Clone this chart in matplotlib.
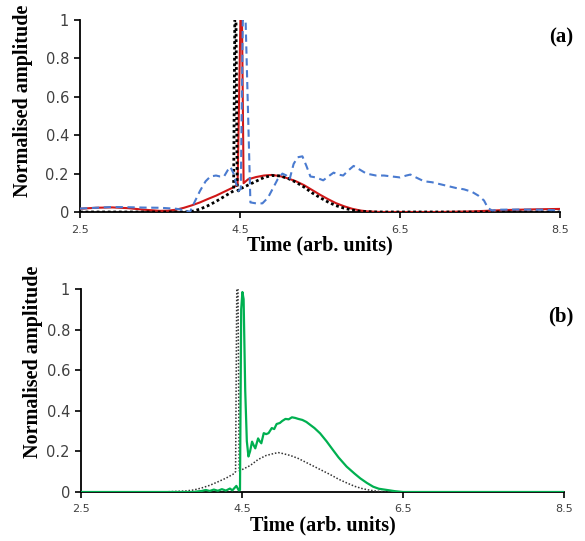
import matplotlib
matplotlib.use("Agg")
import matplotlib.pyplot as plt

# Panel (a): reference pulse (dotted), solid red and dashed blue responses
t_ref_a = [2.5, 3.0, 3.5, 3.8, 3.9, 4.0, 4.1, 4.2, 4.3, 4.4, 4.42, 4.435, 4.45,
           4.465, 4.48, 4.5, 4.6, 4.7, 4.8, 4.9, 5.0, 5.1, 5.2, 5.3, 5.4, 5.5,
           5.6, 5.7, 5.8, 5.9, 6.0, 6.2, 6.5, 7.0, 8.5]
ref_a = [0.0, 0.0, 0.0, 0.0, 0.003, 0.015, 0.033, 0.055, 0.08, 0.105, 0.11, 1.0, 1.0,
         0.12, 0.11, 0.12, 0.14, 0.16, 0.18, 0.19, 0.188, 0.175, 0.155, 0.13, 0.1, 0.075,
         0.052, 0.033, 0.02, 0.01, 0.004, 0.0, 0.0, 0.0, 0.0]

t_red = [2.5, 2.7, 2.9, 3.1, 3.3, 3.5, 3.6, 3.7, 3.8, 3.9, 4.0, 4.1, 4.2, 4.3, 4.4,
         4.47, 4.505, 4.525, 4.545, 4.6, 4.7, 4.8, 4.9, 5.0, 5.1, 5.2, 5.3, 5.4, 5.5,
         5.6, 5.7, 5.8, 5.9, 6.0, 6.1, 6.25, 7.0, 7.4, 7.8, 8.2, 8.5]
red = [0.017, 0.022, 0.024, 0.02, 0.012, 0.006, 0.007, 0.012, 0.022, 0.035, 0.05,
       0.068, 0.085, 0.105, 0.125, 0.14, 1.0, 1.0, 0.15, 0.17, 0.182, 0.19, 0.193,
       0.187, 0.175, 0.16, 0.14, 0.115, 0.09, 0.067, 0.046, 0.03, 0.017, 0.008, 0.003,
       0.0, 0.0, 0.003, 0.01, 0.014, 0.016]

t_blue = [2.5, 2.7, 2.9, 3.1, 3.3, 3.5, 3.7, 3.8, 3.875, 3.93, 4.0, 4.07, 4.13, 4.2,
          4.25, 4.3, 4.35, 4.38, 4.42, 4.45, 4.48, 4.51, 4.535, 4.57, 4.63, 4.7, 4.78,
          4.85, 4.92, 4.97, 5.03, 5.08, 5.12, 5.17, 5.22, 5.28, 5.33, 5.38, 5.45, 5.54,
          5.62, 5.67, 5.73, 5.79, 5.85, 5.92, 6.0, 6.08, 6.2, 6.3, 6.4, 6.5, 6.58, 6.63,
          6.7, 6.8, 6.9, 7.0, 7.1, 7.2, 7.3, 7.4, 7.48, 7.55, 7.6, 7.65, 7.75, 8.0, 8.3,
          8.5]
blue = [0.018, 0.022, 0.026, 0.025, 0.023, 0.022, 0.017, 0.01, 0.0, 0.05, 0.11, 0.16,
        0.185, 0.19, 0.185, 0.185, 0.22, 0.235, 0.2, 0.15, 0.11, 0.12, 1.0, 1.0, 0.05,
        0.045, 0.045, 0.075, 0.13, 0.17, 0.2, 0.19, 0.17, 0.25, 0.285, 0.29, 0.24, 0.185,
        0.18, 0.165, 0.19, 0.205, 0.195, 0.19, 0.215, 0.24, 0.22, 0.2, 0.19, 0.19, 0.185,
        0.18, 0.19, 0.195, 0.18, 0.16, 0.155, 0.145, 0.135, 0.125, 0.118, 0.105, 0.085,
        0.06, 0.02, 0.008, 0.012, 0.013, 0.012, 0.008]

# Panel (b): reference pulse (dotted) and green response
t_ref_b = [2.5, 3.5, 3.8, 3.9, 4.0, 4.1, 4.2, 4.3, 4.4, 4.42, 4.435, 4.45, 4.465, 4.5,
           4.6, 4.7, 4.8, 4.9, 4.95, 5.0, 5.1, 5.2, 5.3, 5.4, 5.5, 5.6, 5.7, 5.8, 5.9,
           6.0, 6.1, 6.2, 6.3, 8.5]
ref_b = [0.0, 0.0, 0.005, 0.01, 0.02, 0.033, 0.05, 0.068, 0.09, 0.1, 1.0, 1.0, 0.105,
         0.11, 0.13, 0.16, 0.18, 0.19, 0.194, 0.19, 0.18, 0.165, 0.145, 0.125, 0.105,
         0.085, 0.063, 0.045, 0.028, 0.016, 0.008, 0.003, 0.0, 0.0]

t_green = [2.5, 3.9, 3.95, 4.0, 4.05, 4.1, 4.15, 4.2, 4.25, 4.3, 4.35, 4.38, 4.43, 4.46,
           4.475, 4.49, 4.505, 4.52, 4.54, 4.56, 4.58, 4.6, 4.625, 4.645, 4.665, 4.7,
           4.72, 4.74, 4.77, 4.8, 4.83, 4.87, 4.9, 4.93, 4.97, 5.0, 5.04, 5.08, 5.12,
           5.16, 5.2, 5.25, 5.3, 5.35, 5.4, 5.47, 5.55, 5.63, 5.7, 5.8, 5.9, 5.97, 6.05,
           6.13, 6.2, 6.3, 6.4, 6.5, 8.5]
green = [0.0, 0.0, 0.003, 0.005, 0.01, 0.005, 0.012, 0.006, 0.014, 0.007, 0.017, 0.008,
         0.03, 0.008, 0.01, 0.9, 0.985, 0.95, 0.5, 0.25, 0.175, 0.2, 0.248, 0.23, 0.215,
         0.264, 0.25, 0.24, 0.29, 0.285, 0.29, 0.315, 0.31, 0.335, 0.34, 0.35, 0.36,
         0.358, 0.368, 0.365, 0.36, 0.355, 0.345, 0.33, 0.315, 0.289, 0.25, 0.207, 0.17,
         0.125, 0.09, 0.067, 0.045, 0.026, 0.016, 0.01, 0.004, 0.0, 0.0]

x_ticks = [2.5, 4.5, 6.5, 8.5]
y_ticks = [0, 0.2, 0.4, 0.6, 0.8, 1]
y_tick_labels = ["0", "0.2", "0.4", "0.6", "0.8", "1"]

serif = ["Liberation Serif", "DejaVu Serif"]

fig = plt.figure(figsize=(5.85, 5.41), dpi=100)
ax_a = fig.add_axes([80 / 585, 1 - 212 / 541, 480 / 585, 192 / 541])
ax_b = fig.add_axes([81 / 585, 1 - 492 / 541, 483 / 585, 203 / 541])


def style_axes(ax, ylab_xy, xlab_y, tag, tag_xy):
    ax.set_xlim(2.5, 8.5)
    ax.set_ylim(0, 1)
    ax.set_xticks(x_ticks)
    ax.set_xticklabels([str(v) for v in x_ticks])
    ax.set_yticks(y_ticks)
    ax.set_yticklabels(y_tick_labels)
    for side in ("top", "right"):
        ax.spines[side].set_visible(False)
    for side in ("left", "bottom"):
        ax.spines[side].set_linewidth(1.3)
        ax.spines[side].set_color("black")
    ax.tick_params(axis="both", direction="out", length=4, width=1.2,
                   labelcolor="#404040", color="black")
    ax.tick_params(axis="x", pad=5, labelsize=8)
    ax.tick_params(axis="y", pad=4, labelsize=10.5)
    ax.set_ylabel("Normalised amplitude", fontfamily=serif, fontweight="bold",
                  fontsize=14.5)
    ax.yaxis.set_label_coords(*ylab_xy)
    ax.yaxis.label.set_verticalalignment("center")
    ax.set_xlabel("Time (arb. units)", fontfamily=serif, fontweight="bold",
                  fontsize=14.5)
    ax.xaxis.set_label_coords(0.5, xlab_y)
    ax.xaxis.label.set_verticalalignment("baseline")
    ax.text(tag_xy[0], tag_xy[1], tag, transform=ax.transAxes, ha="right",
            va="center", fontfamily=serif, fontweight="bold", fontsize=15)


# (a)
ax_a.plot(t_red, red, color="#D01818", lw=1.5, zorder=3)
ax_a.plot(t_ref_a, ref_a, color="black", lw=2.0, linestyle=(0, (1, 1)), zorder=4)
ax_a.plot(t_blue, blue, color="#4A7BD0", lw=1.5, linestyle=(0, (3.5, 2.2)), zorder=5)
style_axes(ax_a, (-0.119, 0.58), -0.203, "(a)", (1.027, 0.911))

# (b)
ax_b.plot(t_ref_b, ref_b, color="#333333", lw=1.1, linestyle=(0, (1, 1.2)), zorder=3)
ax_b.plot(t_green, green, color="#00B050", lw=1.6, zorder=4)
style_axes(ax_b, (-0.099, 0.64), -0.19, "(b)", (1.019, 0.867))

fig.savefig("out.png", dpi=100)
